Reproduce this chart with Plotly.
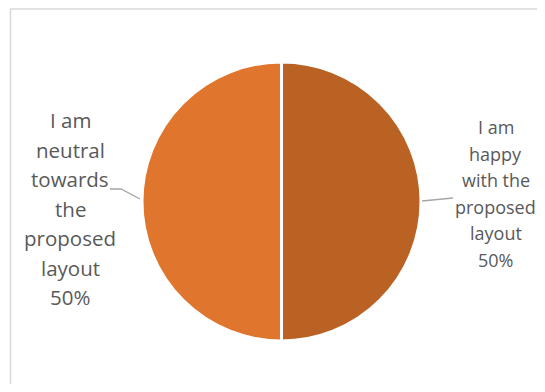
import plotly.graph_objects as go

labels = ["I am happy with the proposed layout", "I am neutral towards the proposed layout"]
values = [50, 50]
colors = ["#BA6124", "#E0752D"]
label_lines = [
    ["I am", "happy", "with the", "proposed", "layout"],
    ["I am", "neutral", "towards", "the", "proposed", "layout"],
]

# page body has an 8px margin: the figure starts at (8, 8) in the window;
# keep it inside the window so no scrollbars appear
OFF = 8
W, H = 545 - 2 * OFF, 392 - 2 * OFF

def px(x):
    return (x - OFF) / W

def py(y):
    return 1 - (y - OFF) / H

total = sum(values)
pct = [f"{round(v / total * 100)}%" for v in values]

fig = go.Figure()
fig.add_trace(go.Pie(
    labels=labels,
    values=values,
    sort=False,
    direction="clockwise",
    rotation=0,
    marker=dict(colors=colors, line=dict(color="white", width=3)),
    textinfo="none",
    hoverinfo="label+percent",
    showlegend=False,
    domain=dict(x=[px(281.5 - 200), px(281.5 + 200)], y=[py(341), py(62)]),
))

def add_label(lines, cx, cy0, step, size):
    for i, t in enumerate(lines):
        fig.add_annotation(
            x=px(cx), y=py(cy0 + i * step), xref="paper", yref="paper",
            text=t, showarrow=False,
            font=dict(family="Open Sans, Noto Sans, sans-serif", size=size, color="#595959"),
            xanchor="center", yanchor="middle", borderpad=0,
        )

add_label(label_lines[0] + [pct[0]], 495.5, 127, 26.5, 18)
add_label(label_lines[1] + [pct[1]], 70, 120, 29.5, 20.5)

shapes = [
    # chart area frame
    dict(type="rect", xref="paper", yref="paper",
         x0=px(10.5), x1=px(580), y0=py(430), y1=py(9),
         line=dict(color="#D9D9D9", width=1.5), fillcolor="rgba(0,0,0,0)", layer="below"),
    # leader lines
    dict(type="path", xref="paper", yref="paper",
         path=f"M {px(110)},{py(189)} L {px(121)},{py(189)} L {px(140)},{py(199)}",
         line=dict(color="#A6A6A6", width=1.3)),
    dict(type="path", xref="paper", yref="paper",
         path=f"M {px(422)},{py(201)} L {px(453)},{py(198)}",
         line=dict(color="#A6A6A6", width=1.3)),
]

fig.update_layout(
    width=W, height=H,
    margin=dict(l=0, r=0, t=0, b=0),
    paper_bgcolor="white",
    plot_bgcolor="white",
    shapes=shapes,
)

fig.write_html("out.html")
